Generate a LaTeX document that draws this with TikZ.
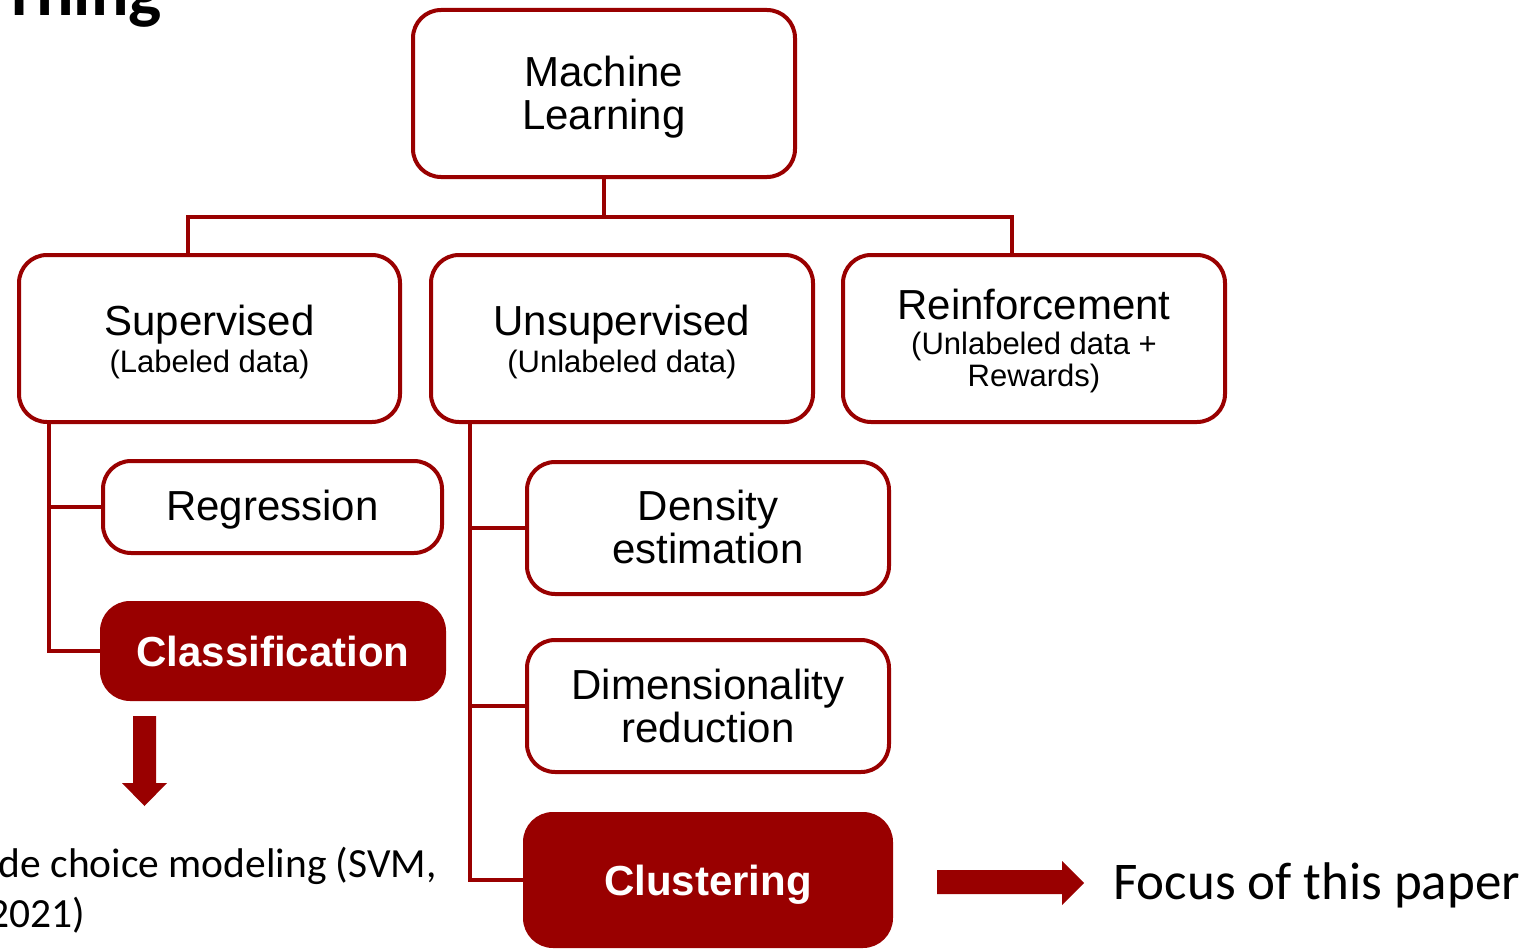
\documentclass[tikz,border=0pt]{standalone}
\usepackage{fontspec}
\setmainfont{Liberation Sans}
\newfontfamily\calfont{Carlito}
\definecolor{dr}{RGB}{153,0,0}
\newcommand{\subsz}{\fontsize{31}{33}\selectfont}
\begin{document}
\begin{tikzpicture}[x=1pt,y=-1pt,
  box/.style={draw=dr,line width=4pt,rounded corners=28pt,fill=white,inner sep=0pt},
  fbox/.style={fill=dr,draw=dr,line width=4pt,rounded corners=28pt,inner sep=0pt},
  btext/.style={inner sep=0pt,align=center,font=\fontsize{42}{46}\selectfont},
  ftext/.style={inner sep=0pt,align=center,text=white,font=\fontsize{42}{46}\selectfont\bfseries},
  conn/.style={draw=dr,line width=4pt}]
\useasboundingbox (0,0) rectangle (1535,950);
\clip (0,0) rectangle (1535,950);

% boxes
\node[box,minimum width=382pt,minimum height=167pt] (ML) at (604,93.5) {};
\node[box,minimum width=381pt,minimum height=167pt] (Sup) at (209.5,338.5) {};
\node[box,minimum width=382pt,minimum height=167pt] (Uns) at (622,338.5) {};
\node[box,minimum width=382pt,minimum height=167pt] (Rei) at (1034,338.5) {};
\node[box,minimum width=339pt,minimum height=92pt] (Reg) at (272.5,507) {};
\node[fbox,minimum width=342pt,minimum height=96pt] (Cls) at (273,651) {};
\node[box,minimum width=362pt,minimum height=132pt] (Den) at (708,528) {};
\node[box,minimum width=362pt,minimum height=132pt] (Dim) at (708,706) {};
\node[fbox,minimum width=366pt,minimum height=132pt] (Clu) at (708,880) {};

% box texts
\node[btext] (MLt) at ([yshift=-4pt]ML.center) {Machine\\[-3pt]Learning};
\node[btext] (Supt) at ([yshift=-3pt]Sup.center) {Supervised\\[-9pt]{\subsz (Labeled data)}};
\node[btext] (Unst) at ([yshift=-3pt]Uns.center) {Unsupervised\\[-9pt]{\subsz (Unlabeled data)}};
\node[btext] (Reit) at ([yshift=-2.5pt]Rei.center) {Reinforcement\\[-11pt]{\subsz (Unlabeled data +}\\[-14pt]{\subsz Rewards)}};
\node[btext] (Regt) at ([yshift=-3pt]Reg.center) {Regression};
\node[ftext] (Clst) at (Cls.center) {Classification};
\node[btext] (Dent) at ([yshift=1pt]Den.center) {Density\\[-3pt]estimation};
\node[btext] (Dimt) at (Dim.center) {Dimensionality\\[-3pt]reduction};
\node[ftext] (Clut) at ([yshift=-5pt]Clu.center) {Clustering};

% connectors
\coordinate (bar) at (600,217);
\draw[conn] (ML.south) -- (ML.south |- bar);
\draw[conn] ([xshift=-22pt]Sup.north) |- (bar) -| ([xshift=-22pt]Rei.north);
\coordinate (lt) at (49,424);
\coordinate (mt) at (470,424);
\draw[conn] (lt) |- (Reg.west);
\draw[conn] (lt) |- (Cls.west);
\draw[conn] (mt) |- (Den.west);
\draw[conn] (mt) |- (Dim.west);
\draw[conn] (mt) |- (Clu.west);

% block arrows
\fill[dr] (133,716) -- (156,716) -- (156,783) -- (167,783) -- (144.5,806) -- (122,783) -- (133,783) -- cycle;
\fill[dr] (937,870) -- (1062,870) -- (1062,861) -- (1084,883) -- (1062,905) -- (1062,894) -- (937,894) -- cycle;

% texts
\node[inner sep=0pt,anchor=base west,font=\calfont\fontsize{53}{60}\selectfont] (focus) at (1113,899) {Focus of this paper};
\node[inner sep=0pt,anchor=base east,font=\calfont\fontsize{41.5}{50}\selectfont] (t1) at (437,877) {de choice modeling (SVM,};
\node[inner sep=0pt,anchor=base east,font=\calfont\fontsize{41.5}{50}\selectfont] (t2) at (85,927) {2021)};
\node[inner sep=0pt,anchor=base east,font=\calfont\bfseries\fontsize{70}{80}\selectfont] (title) at (162,16) {rning};
\end{tikzpicture}
\end{document}
